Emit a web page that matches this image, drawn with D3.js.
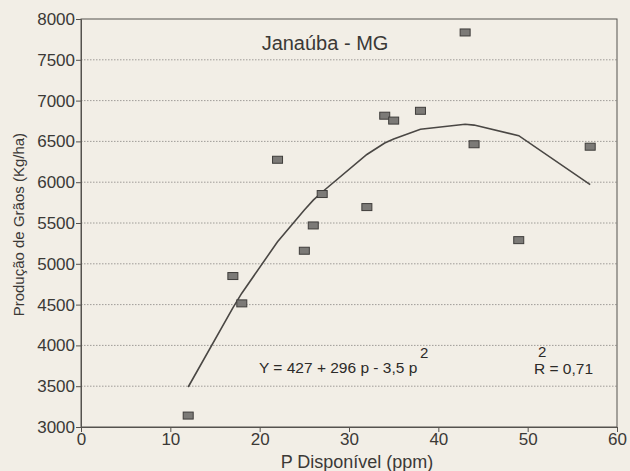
<!DOCTYPE html>
<html lang="pt">
  <head>
    <meta charset="utf-8" />
    <title>Janaúba - MG</title>
    <script src="https://d3js.org/d3.v7.min.js"></script>
    <style>
      body {
        margin: 0;
        background: #f2eee6;
      }
      svg {
        font-family: "Liberation Sans", Arial, sans-serif;
      }
      .grid line {
        stroke: #8a8884;
        stroke-width: 0.8;
        stroke-dasharray: 1.5 1.5;
      }
      .axis path,
      .axis line {
        stroke: #55524e;
        stroke-width: 1;
      }
      .axis text {
        fill: #3b3936;
        font-size: 17px;
      }
      .fit {
        fill: none;
        stroke: #4a4744;
        stroke-width: 1.6;
      }
      .point {
        fill: #7c7a77;
        stroke: #3f3d3b;
        stroke-width: 1;
      }
      .label {
        fill: #3b3936;
      }
      .eq {
        fill: #2c2a28;
      }
    </style>
  </head>
  <body>
    <div id="chart"></div>
    <script>
      let width = 630;
      let height = 471;

      // Pontos observados
      let pValues = [12, 17, 18, 22, 25, 26, 27, 32, 34, 35, 38, 43, 44, 49, 57];
      let production = [
        3140, 4850, 4515, 6275, 5160, 5470, 5855, 5695, 6815, 6755, 6875, 7835,
        6465, 5290, 6435,
      ];
      // Curva ajustada
      let fitted = [
        3490, 4460, 4640, 5270, 5660, 5780, 5880, 6340, 6480, 6530, 6650, 6710,
        6700, 6570, 5970,
      ];

      let xTicks = [0, 10, 20, 30, 40, 50, 60];
      let yTicks = [3000, 3500, 4000, 4500, 5000, 5500, 6000, 6500, 7000, 7500, 8000];

      let margin = { top: 19, right: 13, bottom: 44, left: 81 };

      let svg = d3
        .select("#chart")
        .append("svg")
        .attr("width", width)
        .attr("height", height);

      let x = d3
        .scaleLinear()
        .domain([0, 60])
        .range([margin.left, width - margin.right]);
      let y = d3
        .scaleLinear()
        .domain([3000, 8000])
        .range([height - margin.bottom, margin.top]);

      // Grade horizontal
      svg
        .append("g")
        .attr("class", "grid")
        .selectAll("line")
        .data(yTicks.slice(1, -1))
        .enter()
        .append("line")
        .attr("x1", x(0))
        .attr("x2", x(60))
        .attr("y1", (d) => y(d))
        .attr("y2", (d) => y(d));

      // Moldura
      svg
        .append("rect")
        .attr("x", x(0))
        .attr("y", y(8000))
        .attr("width", x(60) - x(0))
        .attr("height", y(3000) - y(8000))
        .attr("fill", "none")
        .attr("stroke", "#55524e")
        .attr("stroke-width", 1);

      // Eixos
      svg
        .append("g")
        .attr("class", "axis")
        .attr("transform", "translate(0," + y(3000) + ")")
        .call(
          d3.axisBottom(x).tickValues(xTicks).tickFormat(d3.format("d")).tickSize(5).tickPadding(1)
        );

      svg
        .append("g")
        .attr("class", "axis")
        .attr("transform", "translate(" + x(0) + ",0)")
        .call(
          d3.axisLeft(y).tickValues(yTicks).tickFormat(d3.format("d")).tickSize(5).tickPadding(1)
        );

      // Curva ajustada
      let line = d3
        .line()
        .x((d, i) => x(pValues[i]))
        .y((d) => y(d));
      svg.append("path").attr("class", "fit").attr("d", line(fitted));

      // Pontos
      svg
        .append("g")
        .selectAll("rect")
        .data(production)
        .enter()
        .append("rect")
        .attr("class", "point")
        .attr("x", (d, i) => x(pValues[i]) - 5)
        .attr("y", (d) => y(d) - 3.5)
        .attr("width", 10)
        .attr("height", 7);

      // Título
      svg
        .append("text")
        .attr("class", "label")
        .attr("x", 325)
        .attr("y", 50)
        .attr("text-anchor", "middle")
        .style("font-size", "20px")
        .text("Janaúba - MG");

      // Equação
      svg
        .append("text")
        .attr("class", "eq")
        .attr("x", 259)
        .attr("y", 373)
        .style("font-size", "15.5px")
        .text("Y = 427 + 296 p - 3,5 p");
      svg
        .append("text")
        .attr("class", "eq")
        .attr("x", 420)
        .attr("y", 358)
        .style("font-size", "15px")
        .text("2");
      svg
        .append("text")
        .attr("class", "eq")
        .attr("x", 534)
        .attr("y", 374)
        .style("font-size", "15.5px")
        .text("R = 0,71");
      svg
        .append("text")
        .attr("class", "eq")
        .attr("x", 538)
        .attr("y", 357)
        .style("font-size", "15px")
        .text("2");

      // Títulos dos eixos
      svg
        .append("text")
        .attr("class", "label")
        .attr("x", 357)
        .attr("y", 468)
        .attr("text-anchor", "middle")
        .style("font-size", "18px")
        .text("P Disponível (ppm)");

      svg
        .append("text")
        .attr("class", "label")
        .attr("transform", "translate(24," + y(5480) + ") rotate(-90)")
        .attr("text-anchor", "middle")
        .style("font-size", "15px")
        .text("Produção de Grãos (Kg/ha)");
    </script>
  </body>
</html>
